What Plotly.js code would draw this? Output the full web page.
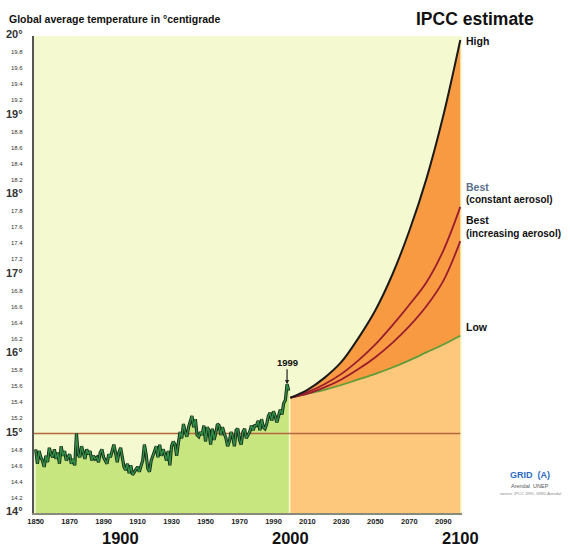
<!DOCTYPE html>
<html>
<head>
<meta charset="utf-8">
<script src="https://cdn.plot.ly/plotly-3.0.1.min.js"></script>
<style>html,body{margin:0;padding:0;background:#fff;}#chart{width:570px;height:548px;}</style>
</head>
<body>
<div id="chart"></div>
<script>
// ---- Data ----
const histYears = [];
for (let y = 1850; y <= 1999; y++) histYears.push(y);
const histTemps = [
  14.80, 14.62, 14.78, 14.70, 14.66, 14.58, 14.72, 14.64, 14.82, 14.74,
  14.70, 14.80, 14.68, 14.76, 14.62, 14.84, 14.72, 14.78, 14.66, 14.70,
  14.74, 14.62, 14.68, 14.60, 15.00, 14.74, 14.70, 14.84, 14.76, 14.68,
  14.80, 14.74, 14.78, 14.66, 14.72, 14.68, 14.70, 14.64, 14.76, 14.80,
  14.70, 14.66, 14.62, 14.74, 14.70, 14.78, 14.86, 14.76, 14.64, 14.76,
  14.82, 14.70, 14.58, 14.54, 14.62, 14.50, 14.60, 14.48, 14.52, 14.56,
  14.58, 14.52, 14.60, 14.66, 14.86, 14.74, 14.56, 14.52, 14.66, 14.72,
  14.76, 14.84, 14.70, 14.86, 14.72, 14.80, 14.74, 14.66, 14.78, 14.60,
  14.84, 14.90, 14.86, 14.72, 14.88, 15.02, 14.94, 15.12, 15.02, 14.96,
  15.08, 15.14, 15.22, 15.08, 15.18, 14.98, 14.96, 15.02, 14.98, 15.10,
  14.90, 15.08, 15.04, 14.86, 15.06, 14.92, 15.00, 15.12, 15.10, 14.98,
  15.08, 15.00, 14.94, 14.84, 14.90, 15.02, 14.96, 14.84, 15.04, 15.06,
  14.92, 14.86, 15.02, 15.06, 14.94, 14.98, 15.02, 15.10, 15.04, 15.10,
  15.10, 15.16, 15.04, 15.18, 15.08, 15.06, 15.12, 15.22, 15.26, 15.16,
  15.28, 15.22, 15.14, 15.22, 15.30, 15.24, 15.38, 15.42, 15.62, 15.54
];
const projYears = [2000, 2010, 2020, 2030, 2040, 2050, 2060, 2070, 2080, 2090, 2100];
const highTemps = [15.45, 15.55, 15.70, 15.90, 16.20, 16.55, 17.00, 17.55, 18.20, 19.00, 19.95];
const bestConstTemps = [15.45, 15.52, 15.62, 15.75, 15.92, 16.12, 16.36, 16.62, 16.90, 17.30, 17.85];
const bestIncrTemps = [15.45, 15.50, 15.58, 15.68, 15.81, 15.96, 16.14, 16.35, 16.60, 16.92, 17.42];
const lowTemps = [15.45, 15.50, 15.55, 15.61, 15.68, 15.75, 15.83, 15.92, 16.02, 16.12, 16.23];
const xTickVals = [1850, 1870, 1890, 1910, 1930, 1950, 1970, 1990, 2010, 2030, 2050, 2070, 2090];
const centuryLabels = [1900, 2000, 2100];
const yTickVals = [];
for (let i = 0; i <= 30; i++) yTickVals.push(+(14 + i * 0.2).toFixed(1));
const yTickText = yTickVals.map(v => Number.isInteger(v)
  ? '<span style="font-size:11px;font-weight:bold">' + v + '°</span>'
  : '<span style="font-size:6px">' + v.toFixed(1) + '</span>');
const refTemp = 15;

// ---- Colours ----
const bg = '#f4f9cf', greenFill = '#c8e680', lightOrange = '#fdc77c', darkOrange = '#f79a42';
const sans = '"Liberation Sans", Arial, sans-serif';

const traces = [
  {x: projYears, y: lowTemps, mode: 'lines', line: {width: 0, shape: 'spline'}, fill: 'tozeroy', fillcolor: lightOrange, hoverinfo: 'skip'},
  {x: projYears, y: highTemps, mode: 'lines', line: {width: 0, shape: 'spline'}, fill: 'tonexty', fillcolor: darkOrange, hoverinfo: 'skip'},
  {x: histYears, y: histTemps, mode: 'lines', line: {width: 0}, fill: 'tozeroy', fillcolor: greenFill, hoverinfo: 'skip'},
  {x: [1849, 2100], y: [refTemp, refTemp], mode: 'lines', line: {color: '#b4683e', width: 1.5}},
  {x: projYears, y: lowTemps, mode: 'lines', line: {color: '#5e9c38', width: 1.8, shape: 'spline'}},
  {x: projYears, y: bestIncrTemps, mode: 'lines', line: {color: '#9a1c2e', width: 1.8, shape: 'spline'}},
  {x: projYears, y: bestConstTemps, mode: 'lines', line: {color: '#9a1c2e', width: 1.8, shape: 'spline'}},
  {x: projYears, y: highTemps, mode: 'lines', line: {color: '#1a1a1a', width: 2, shape: 'spline'}},
  {x: histYears, y: histTemps, mode: 'lines', line: {color: '#1c2a1c', width: 3.2}},
  {x: histYears, y: histTemps, mode: 'lines', line: {color: '#2f8f45', width: 1.4}}
];

const ann = [
  {xref: 'paper', yref: 'paper', x: -0.063, y: 1.0, xanchor: 'left', yanchor: 'bottom', yshift: 9,
   text: '<b>Global average temperature in °centigrade</b>', showarrow: false, font: {size: 10.5, color: '#111', family: sans}},
  {xref: 'paper', yref: 'paper', x: 1.03, y: 1.0, xanchor: 'center', yanchor: 'bottom', yshift: 5,
   text: '<b>IPCC estimate</b>', showarrow: false, font: {size: 17.5, color: '#111', family: sans}},
  {x: 2100, y: 19.94, xanchor: 'left', xshift: 4, text: '<b>High</b>', showarrow: false, font: {size: 10.5, color: '#111', family: sans}},
  {x: 2100, y: 18.1, xanchor: 'left', xshift: 4, text: '<b>Best</b>', showarrow: false, font: {size: 10.5, color: '#5b6f8c', family: sans}},
  {x: 2100, y: 17.94, xanchor: 'left', xshift: 4, text: '<b>(constant aerosol)</b>', showarrow: false, font: {size: 10, color: '#111', family: sans}},
  {x: 2100, y: 17.68, xanchor: 'left', xshift: 4, text: '<b>Best</b>', showarrow: false, font: {size: 10.5, color: '#111', family: sans}},
  {x: 2100, y: 17.51, xanchor: 'left', xshift: 4, text: '<b>(increasing aerosol)</b>', showarrow: false, font: {size: 10, color: '#111', family: sans}},
  {x: 2100, y: 16.34, xanchor: 'left', xshift: 4, text: '<b>Low</b>', showarrow: false, font: {size: 10.5, color: '#111', family: sans}},
  {x: 1998, y: 15.62, ax: 0, ay: -22, text: '<b>1999</b>', showarrow: true, arrowhead: 2, arrowsize: 0.7, arrowwidth: 1.2, arrowcolor: '#222',
   font: {size: 9.5, color: '#111', family: sans}},
  {xref: 'paper', yref: 'paper', x: 1.16, y: 0.066, xanchor: 'center', text: '<b>GRID</b>  <b>(A)</b>', showarrow: false, font: {size: 9, color: '#2e6bc0', family: sans}},
  {xref: 'paper', yref: 'paper', x: 1.16, y: 0.047, xanchor: 'center', text: 'Arendal  UNEP', showarrow: false, font: {size: 5.5, color: '#555', family: sans}},
  {xref: 'paper', yref: 'paper', x: 1.16, y: 0.032, xanchor: 'center', text: 'source: IPCC 1995, GRID-Arendal', showarrow: false, font: {size: 4, color: '#888', family: sans}}
];
centuryLabels.forEach(c => ann.push({x: c, y: 0, yref: 'paper', yanchor: 'top', yshift: -14, text: '<b>' + c + '</b>', showarrow: false,
  font: {size: 16.5, color: '#111', family: sans}}));

const layout = {
  width: 570, height: 548,
  margin: {l: 34, r: 108, t: 36, b: 35},
  paper_bgcolor: '#ffffff', plot_bgcolor: bg,
  showlegend: false,
  xaxis: {range: [1849, 2101], tickvals: xTickVals, ticks: '', showgrid: false, zeroline: false,
    showline: true, linecolor: '#8a8a7a', linewidth: 2, tickfont: {size: 7.5, color: '#222', family: sans, weight: 'bold'}},
  yaxis: {range: [14, 20], tickvals: yTickVals, ticktext: yTickText, ticks: '', showgrid: false, zeroline: false,
    showline: true, linecolor: '#555', linewidth: 2, ticklabelstandoff: 8, tickfont: {size: 7, color: '#333', family: sans}},
  annotations: ann
};
Plotly.newPlot('chart', traces, layout, {staticPlot: true, displayModeBar: false});
</script>
</body>
</html>
